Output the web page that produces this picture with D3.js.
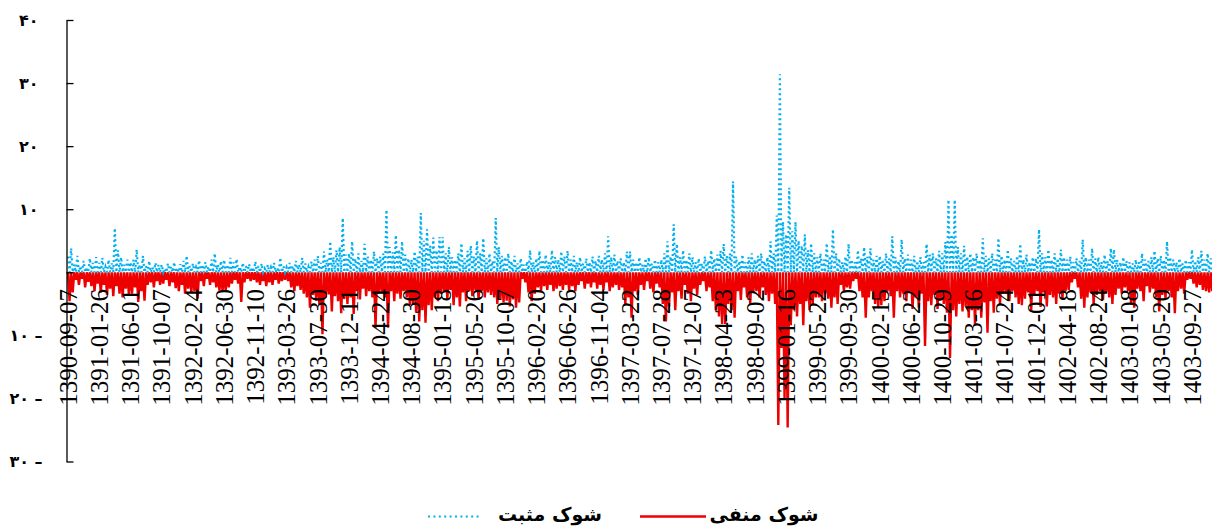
<!DOCTYPE html>
<html>
<head>
<meta charset="utf-8">
<script src="https://cdn.jsdelivr.net/npm/d3@7"></script>
<style>
  body { margin: 0; background: #fff; }
</style>
</head>
<body>
<div id="chart"></div>
<script>
// tick labels, one every 10 samples of the series
const tickLabels = [
  "1390-09-07", "1391-01-26", "1391-06-01", "1391-10-07", "1392-02-24", "1392-06-30",
  "1392-11-10", "1393-03-26", "1393-07-30", "1393-12-11", "1394-04-24", "1394-08-30",
  "1395-01-18", "1395-05-26", "1395-10-07", "1396-02-20", "1396-06-26", "1396-11-04",
  "1397-03-22", "1397-07-28", "1397-12-07", "1398-04-23", "1398-09-02", "1399-01-16",
  "1399-05-22", "1399-09-30", "1400-02-15", "1400-06-22", "1400-10-29", "1401-03-16",
  "1401-07-24", "1401-12-01", "1402-04-18", "1402-08-24", "1403-01-08", "1403-05-20",
  "1403-09-27"
];
const pointsPerTick = 10;

// positive shock (blue dotted)
const positiveShock = [
  2.5, 3.8, 1.2, 2.6, 1.0, 1.8, 0.8, 2.2, 1.5, 2.4,
  1.5, 2.3, 0.9, 2.0, 1.4, 7.0, 3.5, 2.4, 1.2, 2.0,
  1.6, 2.0, 3.6, 1.2, 2.6, 1.0, 1.8, 0.8, 1.5, 1.2,
  1.2, 0.6, 1.4, 0.9, 1.6, 0.7, 1.3, 1.8, 2.6, 1.0,
  1.4, 0.8, 1.9, 1.2, 1.6, 0.9, 2.0, 3.0, 1.2, 1.8,
  2.0, 1.2, 2.3, 1.6, 2.1, 0.9, 1.5, 1.0, 1.3, 0.8,
  1.7, 1.0, 1.4, 0.6, 1.2, 0.8, 1.5, 0.7, 2.3, 1.0,
  0.8, 1.5, 1.0, 1.8, 1.2, 2.3, 1.4, 0.9, 1.7, 2.0,
  2.6, 1.5, 3.3, 2.0, 4.9, 2.4, 3.5, 4.0, 8.6, 2.8,
  3.0, 4.9, 2.2, 3.0, 1.8, 4.5, 2.5, 2.0, 3.3, 2.2,
  2.5, 3.0, 9.9, 4.0, 3.2, 5.9, 3.6, 4.9, 2.8, 2.2,
  2.0, 3.3, 2.5, 9.4, 5.0, 6.8, 4.2, 5.5, 3.5, 5.6,
  5.6, 3.0, 4.0, 2.4, 2.0, 3.0, 4.6, 2.2, 3.4, 4.2,
  2.5, 5.0, 3.0, 5.4, 2.2, 3.0, 1.8, 8.6, 4.0, 2.6,
  2.4, 3.0, 1.8, 2.6, 1.4, 2.2, 1.2, 1.7, 3.5, 1.6,
  2.2, 3.4, 2.0, 2.8, 1.6, 3.5, 2.4, 2.0, 3.3, 2.5,
  3.4, 2.0, 2.6, 1.6, 2.4, 1.4, 2.2, 1.6, 2.5, 1.8,
  2.6, 2.0, 3.0, 5.7, 2.4, 2.8, 1.8, 2.2, 1.6, 3.3,
  3.3, 2.0, 1.6, 2.4, 1.2, 2.2, 2.4, 1.4, 2.0, 1.6,
  2.0, 3.0, 4.9, 2.5, 7.6, 4.5, 2.4, 3.5, 2.0, 3.0,
  2.4, 1.6, 2.2, 1.4, 2.5, 1.8, 3.5, 2.2, 2.8, 3.4,
  4.5, 2.6, 3.0, 14.4, 2.5, 1.8, 2.8, 1.6, 2.4, 3.0,
  2.0, 2.6, 3.0, 1.8, 2.4, 4.9, 3.0, 9.0, 31.4, 8.0,
  6.0, 13.4, 6.5, 8.0, 5.0, 4.2, 6.0, 3.5, 4.6, 3.0,
  2.4, 3.0, 2.0, 4.6, 2.6, 6.8, 3.0, 2.2, 1.6, 2.5,
  4.5, 2.0, 1.6, 3.5, 2.2, 4.0, 2.5, 3.8, 2.0, 2.6,
  2.6, 1.8, 3.0, 2.2, 5.7, 2.4, 1.8, 5.2, 2.2, 2.8,
  2.0, 2.6, 1.8, 2.4, 1.6, 4.5, 2.8, 3.0, 2.2, 3.4,
  3.0, 4.8, 11.5, 6.0, 11.5, 4.0, 3.0, 4.2, 2.5, 3.0,
  2.4, 3.0, 2.0, 5.4, 2.6, 2.2, 3.0, 2.0, 5.4, 2.6,
  2.0, 3.6, 2.2, 1.8, 2.6, 4.5, 2.0, 2.8, 1.6, 2.4,
  2.2, 6.8, 3.0, 2.4, 3.6, 2.0, 3.0, 2.2, 3.6, 2.4,
  2.0, 2.5, 1.6, 2.2, 1.8, 5.2, 2.4, 2.0, 3.8, 2.2,
  2.4, 1.6, 2.8, 1.8, 3.8, 3.6, 2.0, 1.6, 2.4, 1.8,
  1.6, 1.4, 2.0, 1.6, 3.0, 2.0, 1.8, 2.4, 3.4, 2.2,
  2.6, 2.0, 4.9, 2.4, 2.0, 1.6, 2.2, 1.4, 2.0, 1.6,
  3.6, 1.8, 2.4, 3.4, 2.0, 3.0, 2.2
];

// negative shock (red)
const negativeShock = [
  -4.6, -3.2, -1.2, -2.0, -1.0, -2.4, -1.5, -2.2, -3.0, -1.8,
  -3.2, -2.0, -3.6, -2.6, -3.8, -2.2, -3.4, -4.0, -2.6, -3.6,
  -3.4, -2.4, -4.7, -3.0, -4.5, -2.0, -1.6, -2.4, -1.4, -2.0,
  -1.8, -1.2, -2.2, -1.6, -2.5, -3.0, -2.0, -3.4, -2.6, -3.2,
  -3.0, -4.2, -1.4, -2.2, -1.0, -2.0, -1.6, -2.4, -2.9, -3.0,
  -3.0, -2.4, -1.8, -1.2, -1.8, -4.7, -1.6, -1.0, -1.4, -1.2,
  -1.6, -2.0, -1.4, -2.2, -1.6, -2.0, -1.2, -1.8, -1.4, -1.2,
  -1.4, -2.4, -3.0, -2.2, -2.8, -3.4, -4.0, -5.6, -3.6, -4.5,
  -5.0, -9.8, -4.0, -3.5, -6.2, -3.8, -4.6, -6.5, -4.2, -5.0,
  -4.0, -6.6, -3.0, -4.3, -2.6, -3.8, -3.0, -4.0, -8.8, -3.4,
  -3.2, -4.0, -8.8, -3.0, -4.6, -3.4, -4.2, -3.0, -4.0, -5.2,
  -5.0, -6.4, -7.8, -6.0, -8.0, -5.2, -6.0, -4.0, -4.6, -3.4,
  -3.0, -4.2, -2.8, -5.2, -4.0, -5.4, -3.2, -4.6, -3.0, -3.8,
  -2.8, -4.3, -3.0, -4.0, -3.2, -3.6, -4.0, -5.0, -4.4, -4.8,
  -4.5, -5.4, -4.3, -5.6, -4.8, -1.0, -1.6, -3.2, -4.6, -3.4,
  -2.4, -3.0, -2.2, -2.8, -2.0, -3.0, -2.6, -2.2, -2.8, -2.0,
  -2.8, -2.2, -3.0, -2.0, -1.4, -2.6, -1.8, -2.4, -1.6, -2.6,
  -2.0, -2.8, -1.6, -3.0, -2.4, -2.0, -2.8, -2.4, -5.0, -4.0,
  -7.2, -3.0, -3.6, -2.0, -2.8, -1.4, -2.6, -3.2, -1.8, -2.4,
  -5.0, -7.8, -5.4, -3.2, -6.0, -3.0, -4.2, -2.0, -3.4, -4.6,
  -2.6, -3.6, -2.0, -1.4, -3.0, -2.4, -4.6, -6.0, -7.0, -8.2,
  -8.2, -5.0, -6.0, -7.2, -3.0, -4.4, -2.4, -4.0, -5.0, -3.2,
  -3.0, -4.0, -2.4, -3.6, -4.6, -3.4, -5.0, -24.2, -12.0, -20.0,
  -24.6, -8.4, -6.0, -7.0, -5.0, -8.4, -4.6, -6.0, -5.2, -4.0,
  -4.0, -4.6, -3.4, -4.2, -5.6, -4.0, -5.0, -2.0, -3.0, -2.4,
  -2.6, -1.4, -1.0, -3.0, -4.0, -7.2, -4.0, -3.0, -5.0, -5.6,
  -5.2, -4.6, -3.0, -3.8, -7.2, -3.0, -4.0, -3.4, -4.6, -3.0,
  -5.8, -4.0, -5.6, -3.4, -11.7, -4.6, -5.2, -3.6, -5.8, -4.4,
  -5.0, -6.4, -13.6, -6.0, -7.0, -5.0, -6.2, -5.4, -7.2, -6.0,
  -8.4, -6.0, -7.2, -4.8, -9.6, -4.6, -6.4, -4.2, -5.0, -3.4,
  -3.4, -4.6, -3.0, -4.0, -5.0, -5.2, -4.2, -3.2, -6.0, -3.6,
  -3.0, -5.5, -3.2, -5.4, -3.6, -4.0, -5.0, -3.4, -4.2, -3.0,
  -2.8, -1.6, -1.0, -2.4, -4.2, -5.6, -4.0, -3.2, -5.0, -3.6,
  -3.0, -4.4, -3.2, -4.0, -5.0, -3.6, -2.6, -3.4, -2.4, -3.0,
  -5.0, -5.6, -2.6, -3.0, -4.6, -2.2, -3.2, -2.6, -4.0, -6.2,
  -3.6, -4.2, -3.0, -4.0, -6.5, -3.0, -2.6, -3.4, -1.2, -1.0,
  -1.8, -2.4, -2.0, -2.8, -3.0, -3.2, -3.0
];

const yTicks = [-30, -20, -10, 0, 10, 20, 30, 40];
const seriesNames = ["شوک منفی", "شوک مثبت"];

const width = 1212, height = 527;
const blue = "#00b0f0", red = "#ee0000";

// a day is either a positive or a negative shock, the other series is 0 that day.
// positive days sit at t = i, negative days at t = i + 0.5
const posDays = [], negDays = [];
positiveShock.forEach(function(v, i) {
  posDays.push({t: i, v: v});
  posDays.push({t: i + 0.5, v: 0});
});
negativeShock.forEach(function(v, i) {
  negDays.push({t: i, v: 0});
  negDays.push({t: i + 0.5, v: v});
});

const svg = d3.select("#chart").append("svg")
  .attr("width", width)
  .attr("height", height);

const x = d3.scaleLinear()
  .domain([0, (tickLabels.length - 1) * pointsPerTick])
  .range([68, 1192]);

const y = d3.scaleLinear()
  .domain([-30, 40])
  .range([461.5, 20]);

// persian digits, minus sign after the number, nothing for zero
const faDigits = "۰۱۲۳۴۵۶۷۸۹";
function faNum(d) {
  if (d === 0) return "";
  let s = String(Math.abs(d)).replace(/\d/g, c => faDigits[c]);
  return d < 0 ? s + " \u2013" : s;
}

// lines
const line = d3.line()
  .x(d => x(d.t))
  .y(d => y(d.v));

svg.append("path")
  .datum(negDays)
  .attr("d", line)
  .attr("fill", "none")
  .attr("stroke", red)
  .attr("stroke-width", 2.4);

svg.append("path")
  .datum(posDays)
  .attr("d", line)
  .attr("fill", "none")
  .attr("stroke", blue)
  .attr("stroke-width", 2.2)
  .attr("stroke-dasharray", "2,3");

// y axis
const yAxis = svg.append("g")
  .attr("transform", "translate(66.5,0)")
  .call(d3.axisLeft(y)
    .tickValues(yTicks)
    .tickSizeInner(-7)
    .tickSizeOuter(0)
    .tickPadding(24)
    .tickFormat(faNum));

yAxis.select(".domain").attr("stroke", "#000").attr("stroke-width", 1.3);
yAxis.selectAll(".tick line").attr("stroke", "#000").attr("stroke-width", 1.3);
yAxis.selectAll(".tick text")
  .attr("x", d => d < 0 ? -24 : -28)
  .attr("font-family", "DejaVu Sans, sans-serif")
  .attr("font-weight", "bold")
  .attr("font-size", 16)
  .attr("fill", "#000");

// x labels (rotated, hanging under the zero line)
const xLabels = svg.append("g");
xLabels.selectAll("text")
  .data(tickLabels)
  .enter()
  .append("text")
  .attr("transform", (d, i) => `translate(${x(i * pointsPerTick)},289) rotate(-90)`)
  .attr("dy", "0.35em")
  .attr("text-anchor", "end")
  .attr("font-family", "Liberation Serif, serif")
  .attr("font-size", 25)
  .attr("fill", "#000")
  .text(d => d);

// legend
const legend = svg.append("g");
legend.append("line")
  .attr("x1", 640).attr("x2", 706)
  .attr("y1", 516.5).attr("y2", 516.5)
  .attr("stroke", red)
  .attr("stroke-width", 2.5);
legend.append("text")
  .attr("x", 764).attr("y", 521)
  .attr("text-anchor", "middle")
  .attr("font-family", "DejaVu Sans, sans-serif")
  .attr("font-weight", "bold")
  .attr("font-size", 19)
  .text(seriesNames[0]);

legend.append("line")
  .attr("x1", 428).attr("x2", 482)
  .attr("y1", 516.5).attr("y2", 516.5)
  .attr("stroke", blue)
  .attr("stroke-width", 2.2)
  .attr("stroke-dasharray", "2,3.4");
legend.append("text")
  .attr("x", 550).attr("y", 521)
  .attr("text-anchor", "middle")
  .attr("font-family", "DejaVu Sans, sans-serif")
  .attr("font-weight", "bold")
  .attr("font-size", 19)
  .text(seriesNames[1]);
</script>
</body>
</html>
